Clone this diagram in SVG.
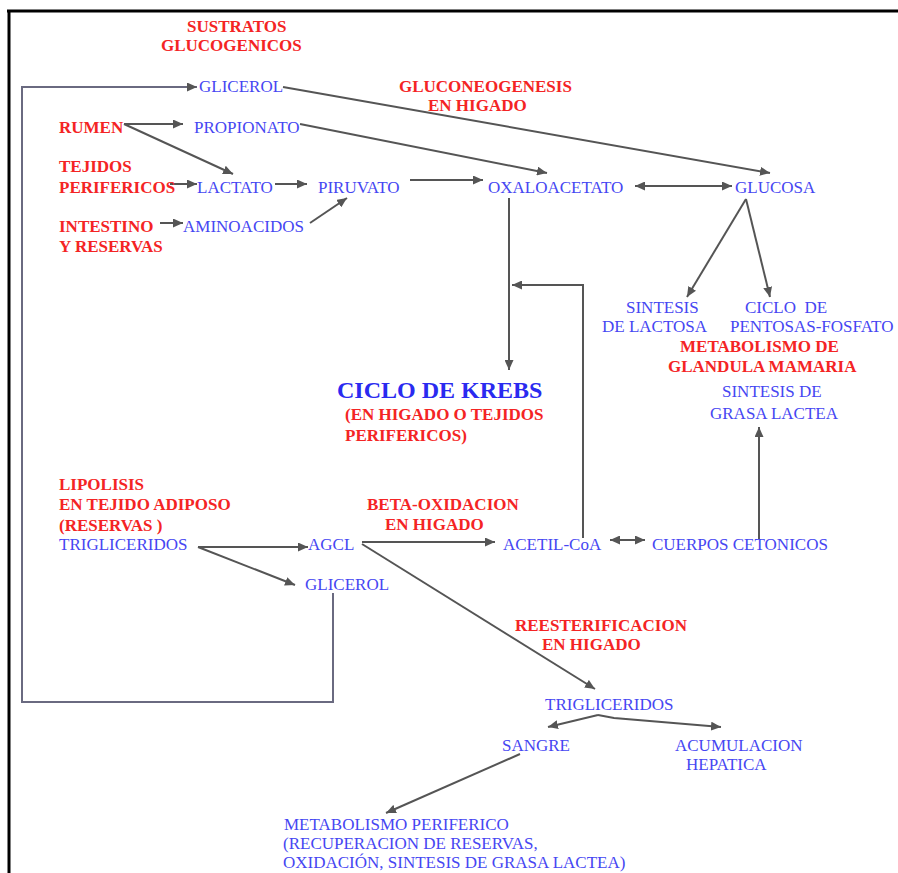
<svg xmlns="http://www.w3.org/2000/svg" width="898" height="873" viewBox="0 0 898 873">
<style>
.b{font-family:"Liberation Serif","Times New Roman",serif;font-size:17px;fill:#4646f2}
.r{font-family:"Liberation Serif","Times New Roman",serif;font-size:17px;font-weight:bold;fill:#f42424}
.k{font-family:"Liberation Serif","Times New Roman",serif;font-size:24px;font-weight:bold;fill:#2a2af0}
.c{stroke:#555;stroke-width:2;fill:none}
.l{stroke:#6a6a80;stroke-width:2;fill:none}
</style>
<defs>
<marker id="ah" viewBox="0 0 10 9" refX="10" refY="4.5" markerWidth="10" markerHeight="9" markerUnits="userSpaceOnUse" orient="auto-start-reverse">
<path d="M0,0 L10,4.5 L0,9 z" fill="#555"/>
</marker>
</defs>
<rect x="0" y="0" width="898" height="873" fill="#fff"/>
<g id="frame" stroke="#000" stroke-width="3" fill="none">
<path d="M7,11 H898 M9,10 V873"/>
</g>

<g id="connectors">
<path class="l" d="M333,593 V702 H22 V87 H197" marker-end="url(#ah)"/>
<path class="c" d="M283,87 L770,173" marker-end="url(#ah)"/>
<path class="c" d="M124,124 L183,124" marker-end="url(#ah)"/>
<path class="c" d="M124,124 L233,174" marker-end="url(#ah)"/>
<path class="c" d="M300,124 L547,173" marker-end="url(#ah)"/>
<path class="c" d="M170,184 L197,184" marker-end="url(#ah)"/>
<path class="c" d="M275,184 L307,184" marker-end="url(#ah)"/>
<path class="c" d="M160,223 L183,223" marker-end="url(#ah)"/>
<path class="c" d="M310,223 L347,198" marker-end="url(#ah)"/>
<path class="c" d="M410,180 L483,180" marker-end="url(#ah)"/>
<path class="c" d="M635,186 L732,186" marker-start="url(#ah)" marker-end="url(#ah)"/>
<path class="c" d="M746,199 L687,297" marker-end="url(#ah)"/>
<path class="c" d="M746,199 L770,297" marker-end="url(#ah)"/>
<path class="c" d="M509,198 V370" marker-end="url(#ah)"/>
<path class="c" d="M583,538 V285 H512" marker-end="url(#ah)"/>
<path class="c" d="M759,539 V427" marker-end="url(#ah)"/>
<path class="c" d="M198,547 H308" marker-end="url(#ah)"/>
<path class="c" d="M198,547 L295,585" marker-end="url(#ah)"/>
<path class="c" d="M362,542 H495" marker-end="url(#ah)"/>
<path class="c" d="M362,544 L595,689" marker-end="url(#ah)"/>
<path class="c" d="M610,540 H645" marker-start="url(#ah)" marker-end="url(#ah)"/>
<path class="c" d="M598,715 L548,727" marker-end="url(#ah)"/>
<path class="c" d="M598,715 L614,718 L721,727" marker-end="url(#ah)"/>
<path class="c" d="M520,754 L386,813" marker-end="url(#ah)"/>
</g>

<g id="lbl-sustratos"><text class="r" x="187" y="32">SUSTRATOS</text><text class="r" x="161" y="51">GLUCOGENICOS</text></g>
<g id="lbl-gluconeo"><text class="r" x="399" y="92">GLUCONEOGENESIS</text><text class="r" x="428" y="111">EN HIGADO</text></g>
<g id="lbl-rumen"><text class="r" x="59" y="133">RUMEN</text></g>
<g id="lbl-tejidos"><text class="r" x="59" y="172">TEJIDOS</text><text class="r" x="59" y="193">PERIFERICOS</text></g>
<g id="lbl-intestino"><text class="r" x="59" y="232">INTESTINO</text><text class="r" x="59" y="252">Y RESERVAS</text></g>
<g id="lbl-glandula"><text class="r" x="680" y="352">METABOLISMO DE</text><text class="r" x="668" y="372">GLANDULA MAMARIA</text></g>
<g id="lbl-krebs-sub"><text class="r" x="345" y="420">(EN HIGADO O TEJIDOS</text><text class="r" x="345" y="441">PERIFERICOS)</text></g>
<g id="lbl-lipolisis"><text class="r" x="59" y="490">LIPOLISIS</text><text class="r" x="59" y="510">EN TEJIDO ADIPOSO</text><text class="r" x="59" y="531">(RESERVAS )</text></g>
<g id="lbl-betaox"><text class="r" x="367" y="510">BETA-OXIDACION</text><text class="r" x="385" y="530">EN HIGADO</text></g>
<g id="lbl-reest"><text class="r" x="515" y="631">REESTERIFICACION</text><text class="r" x="542" y="650">EN HIGADO</text></g>

<g id="n-glicerol-top"><text class="b" x="199" y="92">GLICEROL</text></g>
<g id="n-propionato"><text class="b" x="194" y="133">PROPIONATO</text></g>
<g id="n-lactato"><text class="b" x="197" y="193">LACTATO</text></g>
<g id="n-piruvato"><text class="b" x="318" y="193">PIRUVATO</text></g>
<g id="n-aminoacidos"><text class="b" x="183" y="232">AMINOACIDOS</text></g>
<g id="n-oxaloacetato"><text class="b" x="488" y="193">OXALOACETATO</text></g>
<g id="n-glucosa"><text class="b" x="735" y="193">GLUCOSA</text></g>
<g id="n-lactosa"><text class="b" x="626" y="313">SINTESIS</text><text class="b" x="602" y="332">DE LACTOSA</text></g>
<g id="n-pentosas"><text class="b" x="745" y="313" xml:space="preserve">CICLO  DE</text><text class="b" x="730" y="332">PENTOSAS-FOSFATO</text></g>
<g id="n-grasa"><text class="b" x="722" y="397">SINTESIS DE</text><text class="b" x="710" y="419">GRASA LACTEA</text></g>
<g id="n-krebs"><text class="k" x="337" y="398">CICLO DE KREBS</text></g>
<g id="n-trig-adip"><text class="b" x="59" y="550">TRIGLICERIDOS</text></g>
<g id="n-agcl"><text class="b" x="308" y="550">AGCL</text></g>
<g id="n-glicerol-low"><text class="b" x="305" y="590">GLICEROL</text></g>
<g id="n-acetil"><text class="b" x="503" y="550">ACETIL-CoA</text></g>
<g id="n-cuerpos"><text class="b" x="652" y="550">CUERPOS CETONICOS</text></g>
<g id="n-trig-hig"><text class="b" x="545" y="710">TRIGLICERIDOS</text></g>
<g id="n-sangre"><text class="b" x="502" y="751">SANGRE</text></g>
<g id="n-acumulacion"><text class="b" x="675" y="751">ACUMULACION</text><text class="b" x="686" y="770">HEPATICA</text></g>
<g id="n-metab-perif"><text class="b" x="284" y="830">METABOLISMO PERIFERICO</text><text class="b" x="283" y="849">(RECUPERACION DE RESERVAS,</text><text class="b" x="283" y="868">OXIDACIÓN, SINTESIS DE GRASA LACTEA)</text></g>
</svg>
